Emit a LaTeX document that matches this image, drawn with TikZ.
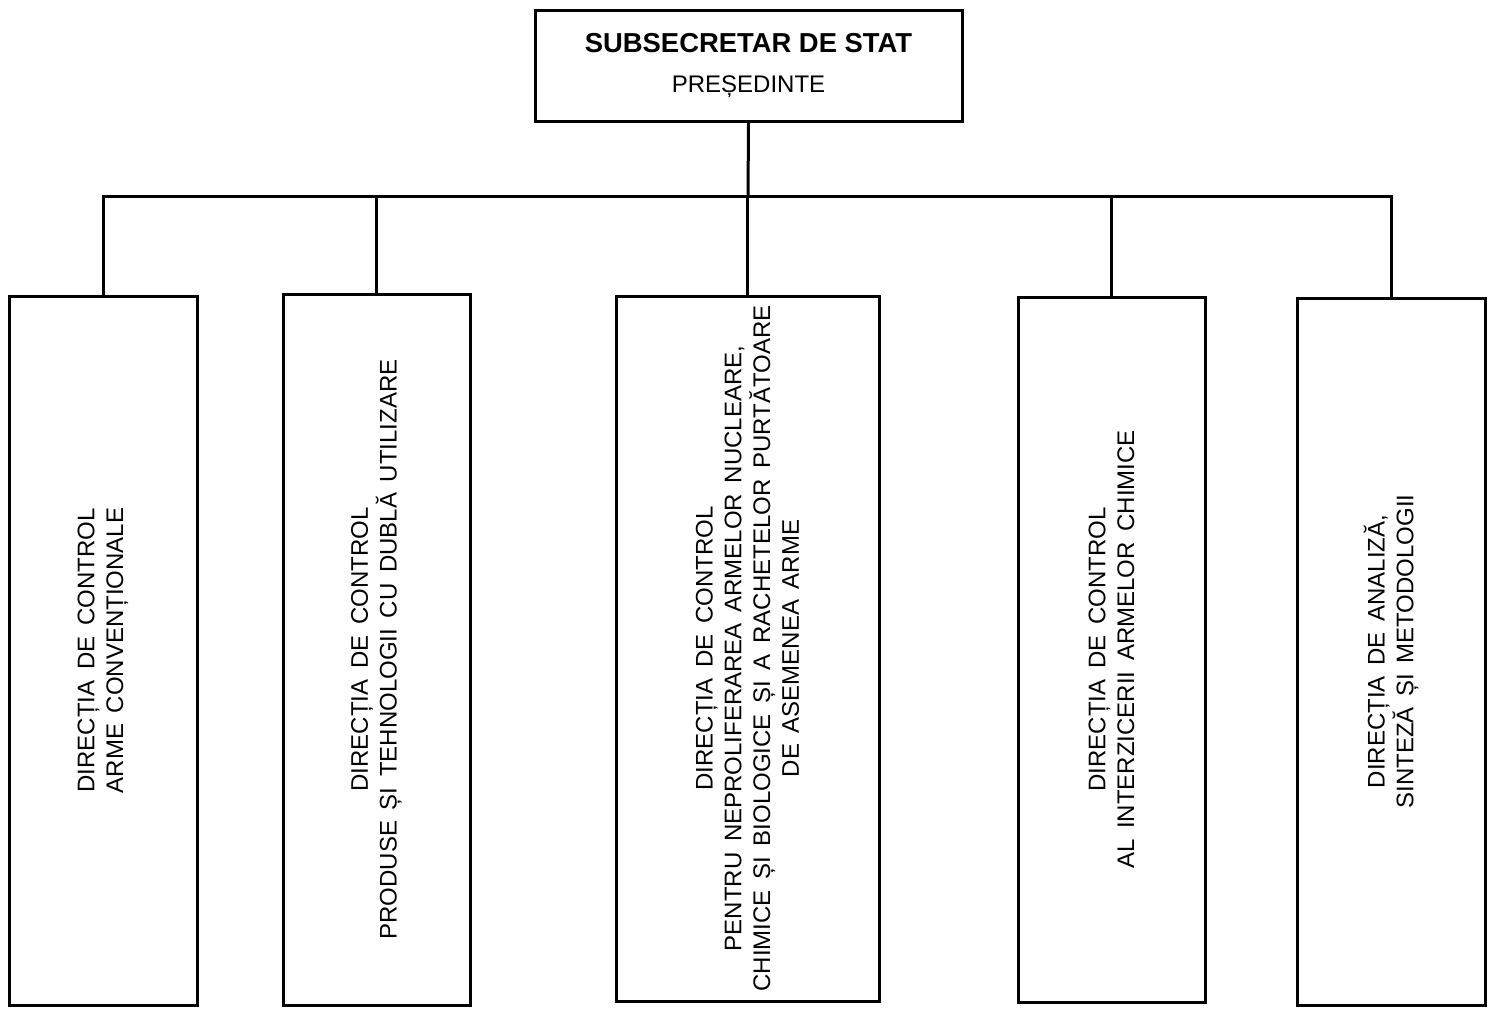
\documentclass[tikz,border=0pt]{standalone}
\usepackage{fontspec}
\setmainfont{Liberation Sans}
\newfontfamily\vfont[WordSpace=1.6]{Liberation Sans}
\usetikzlibrary{positioning}
\begin{document}
\begin{tikzpicture}[x=0.5pt,y=-0.5pt,
  line width=1.5pt,
  box/.style={draw, rectangle, inner sep=0pt},
  vtext/.style={rotate=90, align=center, inner sep=0pt,
    font=\vfont\fontsize{12}{14.4}\selectfont}]
\useasboundingbox (0,0) rectangle (1492,1008);
\node[box, minimum width=213.5pt, minimum height=55.5pt, align=center,
  font=\fontsize{12}{20}\selectfont] (top) at (748.5,65.5)
  {{\fontsize{13.7}{20}\selectfont\bfseries SUBSECRETAR DE STAT}\\
   PREȘEDINTE};
\node[box, minimum width=94pt, minimum height=354.5pt] (b1) at (103,650.5) {};
\node[box, minimum width=93.5pt, minimum height=355.5pt] (b2) at (376.5,649.5) {};
\node[box, minimum width=131.5pt, minimum height=352.5pt] (b3) at (747.5,648.5) {};
\node[box, minimum width=93.5pt, minimum height=352.5pt] (b4) at (1111.5,649.5) {};
\node[box, minimum width=94pt, minimum height=353.5pt] (b5) at (1391,651.5) {};
\node[vtext] (t1) at (b1.center) {DIRECȚIA DE CONTROL\\ARME CONVENȚIONALE};
\node[vtext] (t2) at (b2.center) {DIRECȚIA DE CONTROL\\PRODUSE ȘI TEHNOLOGII CU DUBLĂ UTILIZARE};
\node[vtext] (t3) at (b3.center) {DIRECȚIA DE CONTROL\\PENTRU NEPROLIFERAREA ARMELOR NUCLEARE,\\CHIMICE ȘI BIOLOGICE ȘI A RACHETELOR PURTĂTOARE\\DE ASEMENEA ARME};
\node[vtext] (t4) at (b4.center) {DIRECȚIA DE CONTROL\\AL INTERZICERII ARMELOR CHIMICE};
\node[vtext] (t5) at (b5.center) {DIRECȚIA DE ANALIZĂ,\\SINTEZĂ ȘI METODOLOGII};
\coordinate (bus) at (748,196);
\draw (top.south) -- (bus);
\draw (b1.north) |- (bus);
\draw (b2.north) |- (bus);
\draw (b3.north) |- (bus);
\draw (b4.north) |- (bus);
\draw (b5.north) |- (bus);
\end{tikzpicture}
\end{document}
